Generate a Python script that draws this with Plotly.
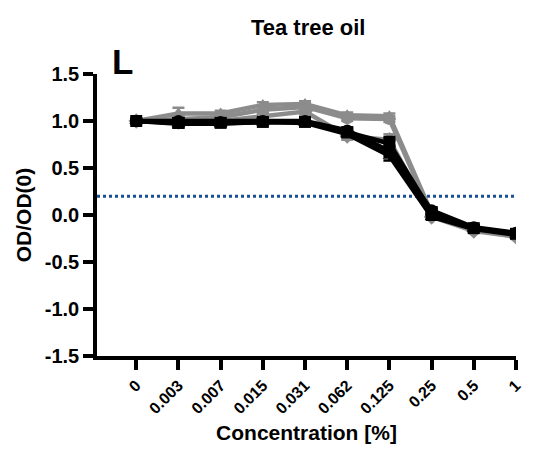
import plotly.graph_objects as go

# Concentration categories (% v/v) and normalised optical density readings
concentrations = ["0", "0.003", "0.007", "0.015", "0.031", "0.062", "0.125", "0.25", "0.5", "1"]

gray_a = [1.00, 1.08, 1.08, 1.17, 1.18, 1.06, 1.05, 0.02, -0.15, -0.22]
gray_a_err = [0.02, 0.06, 0.03, 0.03, 0.03, 0.03, 0.03, 0.02, 0.02, 0.02]
gray_b = [1.00, 1.02, 1.04, 1.12, 1.15, 1.03, 1.02, 0.00, -0.16, -0.23]
gray_b_err = [0.02, 0.03, 0.03, 0.03, 0.04, 0.03, 0.03, 0.02, 0.02, 0.02]
gray_c = [1.00, 0.99, 1.00, 1.05, 1.10, 0.84, 0.80, -0.02, -0.17, -0.23]
gray_c_err = [0.02, 0.03, 0.03, 0.03, 0.03, 0.04, 0.06, 0.02, 0.02, 0.02]

black_a = [1.00, 0.98, 0.98, 0.99, 0.99, 0.88, 0.76, 0.03, -0.14, -0.20]
black_a_err = [0.02, 0.05, 0.03, 0.03, 0.03, 0.03, 0.07, 0.03, 0.02, 0.02]
black_b = [1.00, 1.00, 0.99, 1.00, 1.00, 0.90, 0.68, 0.05, -0.13, -0.19]
black_b_err = [0.02, 0.03, 0.03, 0.03, 0.03, 0.03, 0.05, 0.03, 0.02, 0.02]
black_c = [1.00, 0.97, 0.97, 0.99, 0.98, 0.86, 0.63, -0.02, -0.15, -0.21]
black_c_err = [0.02, 0.04, 0.03, 0.03, 0.03, 0.03, 0.05, 0.03, 0.02, 0.02]

threshold = 0.2

y_ticks = [-1.5, -1.0, -0.5, 0.0, 0.5, 1.0, 1.5]
y_tick_text = ["-1.5", "-1.0", "-0.5", "0.0", "0.5", "1.0", "1.5"]

series = [
    (gray_a, gray_a_err, "#8c8c8c", "triangle-up"),
    (gray_b, gray_b_err, "#8c8c8c", "circle"),
    (gray_c, gray_c_err, "#8c8c8c", "diamond"),
    (black_a, black_a_err, "#000000", "square"),
    (black_b, black_b_err, "#000000", "circle"),
    (black_c, black_c_err, "#000000", "triangle-up"),
]

FONT = "Liberation Sans, Arial, sans-serif"

fig = go.Figure()

# Cut-off reference line
fig.add_trace(go.Scatter(
    x=[-0.93, 9.0], y=[threshold, threshold], mode="lines",
    line=dict(color="#1b4f93", width=3, dash="dot"),
    hoverinfo="skip", showlegend=False,
))

for vals, errs, color, symbol in series:
    fig.add_trace(go.Scatter(
        x=list(range(len(concentrations))), y=vals, mode="lines+markers",
        line=dict(color=color, width=4.5),
        marker=dict(symbol=symbol, size=12, color=color),
        error_y=dict(type="data", array=errs, color=color, thickness=2.5, width=6),
        showlegend=False,
    ))

fig.update_layout(
    width=536, height=461,
    margin=dict(l=97, r=15, t=74, b=105),
    paper_bgcolor="white", plot_bgcolor="white",
    title=dict(text="Tea tree oil", x=0.575, xanchor="center", y=0.94, yanchor="middle",
               font=dict(family=FONT, size=22, color="black", weight="bold")),
    xaxis=dict(
        range=[-0.93, 9.0],
        tickmode="array", tickvals=list(range(len(concentrations))), ticktext=concentrations,
        tickangle=-45, tickfont=dict(family=FONT, size=16, color="black", weight="bold"),
        ticks="outside", ticklen=10, tickwidth=3.5, tickcolor="black",
        showline=True, linecolor="black", linewidth=3.5, showgrid=False, zeroline=False,
        title=dict(text="Concentration [%]", standoff=10,
                   font=dict(family=FONT, size=21, color="black", weight="bold")),
    ),
    yaxis=dict(
        range=[-1.5, 1.5], tickmode="array", tickvals=y_ticks, ticktext=y_tick_text,
        tickfont=dict(family=FONT, size=20, color="black", weight="bold"),
        ticks="outside", ticklen=10, tickwidth=3.5, tickcolor="black",
        showline=True, linecolor="black", linewidth=3.5, showgrid=False, zeroline=False,
        title=dict(text="OD/OD(0)", standoff=8,
                   font=dict(family=FONT, size=21, color="black", weight="bold")),
    ),
    annotations=[dict(
        text="L", xref="paper", yref="paper", x=0.03, y=1.12, xanchor="left", yanchor="top",
        showarrow=False, font=dict(family=FONT, size=35, color="black", weight="bold"),
    )],
)

fig.write_html("out.html")
